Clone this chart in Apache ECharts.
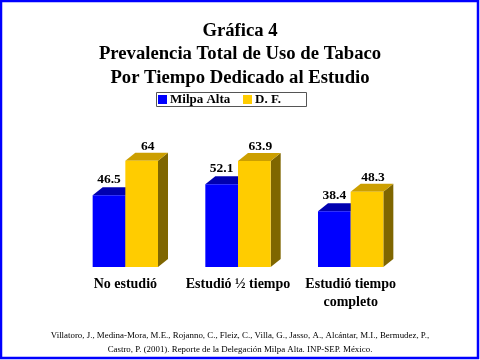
<!DOCTYPE html>
<html><head><meta charset="utf-8">
<script src="https://cdn.jsdelivr.net/npm/echarts@6/dist/echarts.min.js"></script>
<style>html,body{margin:0;padding:0;background:#fff}#c{width:480px;height:360px}</style>
</head><body><div id="c"></div>
<script>
const categories = ['No estudió', 'Estudió ½ tiempo', 'Estudió tiempo\ncompleto'];
const seriesNames = ['Milpa Alta', 'D. F.'];
const milpaAlta = [46.5, 52.1, 38.4];
const df = [64, 63.9, 48.3];
const titleLines = ['Gráfica 4', 'Prevalencia Total de Uso de Tabaco', 'Por Tiempo Dedicado al Estudio'];
const sourceLines = ['Villatoro, J., Medina-Mora, M.E., Rojanno, C., Fleiz, C., Villa, G., Jasso, A., Alcántar, M.I., Bermudez, P.,',
  'Castro, P. (2001). Reporte de la Delegación Milpa Alta. INP-SEP. México.'];

const AXMIN = 10, AXMAX = 70;
const DX = 10, DY = 8;
const FONT = '"Liberation Serif", "Times New Roman", serif';

function make3D(side, colors, labelDx, labelDy) {
  return function (params, api) {
    const cat = api.value(0), val = api.value(1);
    const top = api.coord([cat, val]);
    const base = api.coord([cat, AXMIN]);
    const bw = api.size([1, 0])[0] * 0.29;
    const x0 = side < 0 ? top[0] - bw : top[0];
    const x1 = x0 + bw;
    const yT = top[1], yB = base[1];
    return {
      type: 'group',
      children: [
        { type: 'polygon', shape: { points: [[x1, yB], [x1 + DX, yB - DY], [x1 + DX, yT - DY], [x1, yT]] }, style: { fill: colors[2] } },
        { type: 'polygon', shape: { points: [[x0, yT], [x0 + DX, yT - DY], [x1 + DX, yT - DY], [x1, yT]] }, style: { fill: colors[1] } },
        { type: 'rect', shape: { x: x0, y: yT, width: bw, height: yB - yT }, style: { fill: colors[0] } },
        { type: 'text', x: (x0 + x1) / 2 + labelDx, y: yT - DY - labelDy,
          style: { text: String(val), fill: '#000', font: 'bold 13.5px ' + FONT, align: 'center', verticalAlign: 'middle' } }
      ]
    };
  };
}

const legendCommon = {
  orient: 'horizontal', top: 93, padding: 0,
  icon: 'rect', itemWidth: 9, itemHeight: 9,
  textStyle: { fontFamily: FONT, fontWeight: 'bold', fontSize: 13, color: '#000', padding: [0, 0, 0, -2] }
};

const chart = echarts.init(document.getElementById('c'), null, { renderer: 'canvas' });
chart.setOption({
  animation: false,
  backgroundColor: '#fff',
  title: [
    { text: titleLines.join('\n'), left: 'center', top: 14,
      textStyle: { fontFamily: FONT, fontWeight: 'bold', fontSize: 18.7, lineHeight: 23.5, color: '#000' } },
    { text: sourceLines.join('\n'), left: 'center', top: 324,
      textStyle: { fontFamily: FONT, fontWeight: 'normal', fontSize: 8.9, lineHeight: 14, color: '#000' } }
  ],
  legend: [
    Object.assign({ data: [seriesNames[0]], left: 158 }, legendCommon),
    Object.assign({ data: [seriesNames[1]], left: 243 }, legendCommon)
  ],
  grid: { left: 69, width: 338, top: 149, height: 118 },
  xAxis: {
    type: 'category', data: categories,
    axisLine: { show: false }, axisTick: { show: false },
    axisLabel: { fontFamily: FONT, fontWeight: 'bold', fontSize: 14, color: '#000', margin: 8, lineHeight: 18, interval: 0 }
  },
  yAxis: { type: 'value', min: AXMIN, max: AXMAX, show: false, splitLine: { show: false } },
  graphic: [
    { type: 'rect', shape: { x: 156.5, y: 92.5, width: 150, height: 14 }, style: { fill: 'none', stroke: '#555', lineWidth: 1 }, z: 100 },
    { type: 'rect', shape: { x: 1, y: 1, width: 477, height: 357 }, style: { fill: 'none', stroke: '#0000FF', lineWidth: 2.5 }, z: 100 }
  ],
  series: [
    { name: seriesNames[0], type: 'custom', itemStyle: { color: '#0000FF' },
      renderItem: make3D(-1, ['#0000FF', '#0000B0', '#000080'], 0, 8),
      data: milpaAlta.map((v, i) => [i, v]) },
    { name: seriesNames[1], type: 'custom', itemStyle: { color: '#FFCC00' },
      renderItem: make3D(1, ['#FFCC00', '#CC9F00', '#7F6600'], 6, 6),
      data: df.map((v, i) => [i, v]) }
  ]
});
</script></body></html>
